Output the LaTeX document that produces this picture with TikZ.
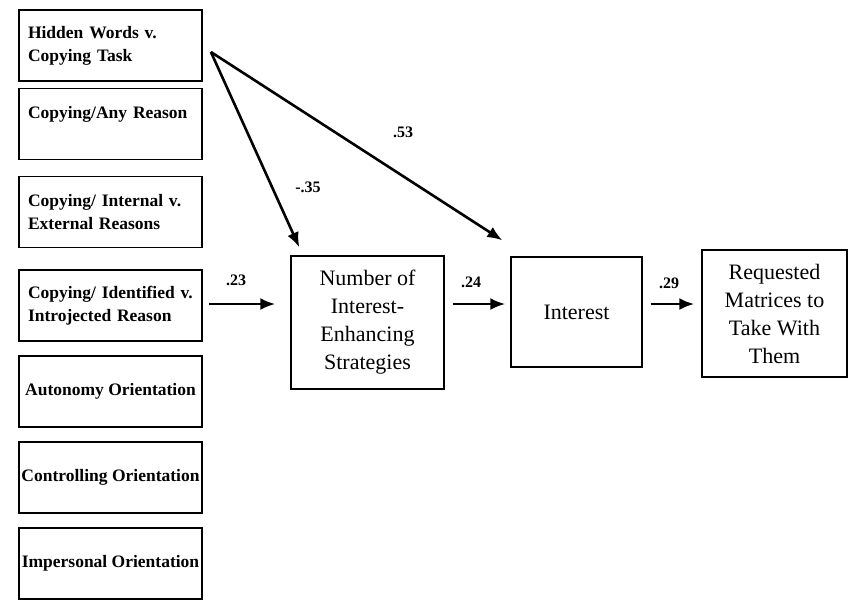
\documentclass[tikz,border=0pt]{standalone}
\usepackage{fontspec}
\setmainfont{Liberation Serif}
\usetikzlibrary{arrows.meta}

\begin{document}
\begin{tikzpicture}[x=1pt,y=-1pt,
  leftbox/.style={draw,line width=1.8pt,minimum width=183pt,minimum height=71pt,
    font=\fontsize{17.5}{23}\selectfont\bfseries},
  predictor/.style={leftbox,inner xsep=9pt,text width=165pt,align=left},
  orient/.style={leftbox,inner xsep=2pt},
  outcome/.style={draw,line width=1.4pt,align=center,font=\fontsize{22}{28}\selectfont},
  pathway/.style={line width=2.6pt,-{Latex[length=15pt,width=12pt]}},
  coef/.style={font=\fontsize{16}{16}\selectfont\bfseries}]
  \useasboundingbox (0,0) rectangle (848,600);

  % predictors down the left side
  \node[predictor] (hid) at (110.5,45.5) {Hidden Words v.\\Copying Task};
  \node[predictor,text depth=24pt] (any) at (110.5,124) {Copying/Any Reason};
  \node[predictor] (intext) at (110.5,212) {Copying/ Internal v.\\External Reasons};
  \node[predictor] (idintro) at (110.5,305.5) {Copying/ Identified v.\\Introjected Reason};
  \node[orient] (auton) at (110.5,391.5) {Autonomy Orientation};
  \node[orient] (ctrl) at (110.5,477.5) {Controlling Orientation};
  \node[orient] (imper) at (110.5,563.5) {Impersonal Orientation};

  % mediators and outcome
  \node[outcome,minimum width=153pt,minimum height=133pt] (strat) at (367.5,322.5)
    {Number of\\Interest-\\Enhancing\\Strategies};
  \node[outcome,minimum width=131pt,minimum height=110pt] (intr) at (576.5,312) {Interest};
  \node[outcome,minimum width=145pt,minimum height=127pt] (req) at (774.5,313.5)
    {Requested\\Matrices to\\Take With\\Them};

  \coordinate (row) at (0,304);
  \draw[pathway] ([shift={(8,6.5)}]hid.east) -- ([shift={(9,-8)}]strat.north west);
  \draw[pathway] ([shift={(8,6.5)}]hid.east) -- ([shift={(-8,-16)}]intr.north west);
  \draw[pathway,shorten <=6pt,shorten >=15pt] (row -| idintro.east) -- (row -| strat.west);
  \draw[pathway,shorten <=8pt,shorten >=5pt] (row -| strat.east) -- (row -| intr.west);
  \draw[pathway,shorten <=8pt,shorten >=7pt] (row -| intr.east) -- (row -| req.west);

  \node[coef] (c35) at (308,187) {-.35};
  \node[coef] (c53) at (403,132) {.53};
  \node[coef] (c23) at (236,280) {.23};
  \node[coef] (c24) at (471,282) {.24};
  \node[coef] (c29) at (669,283) {.29};
\end{tikzpicture}
\end{document}
